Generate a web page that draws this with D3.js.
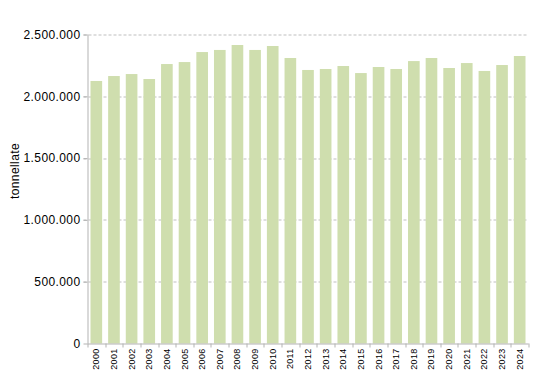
<!DOCTYPE html>
<html>
<head>
<meta charset="utf-8">
<script src="https://cdn.jsdelivr.net/npm/d3@7"></script>
<style>
  body { margin: 0; background: #fff; }
  text { font-family: "Liberation Sans", Arial, sans-serif; fill: #000; }
</style>
</head>
<body>
<div id="chart"></div>
<script>
// Data
const years = ['2000', '2001', '2002', '2003', '2004', '2005', '2006', '2007', '2008', '2009',
  '2010', '2011', '2012', '2013', '2014', '2015', '2016', '2017', '2018', '2019',
  '2020', '2021', '2022', '2023', '2024'];
const tonnes = [2124000, 2164000, 2180000, 2140000, 2261000, 2277000, 2358000, 2375000, 2415000, 2375000,
  2407000, 2310000, 2213000, 2221000, 2245000, 2188000, 2237000, 2221000, 2285000, 2310000,
  2229000, 2269000, 2205000, 2253000, 2326000];
const yTicks = [0, 500000, 1000000, 1500000, 2000000, 2500000];
const yLabel = 'tonnellate';

const data = years.map((y, i) => ({ year: y, value: tonnes[i] }));

const width = 549;
const height = 378;
const margin = { top: 34.5, right: 20.5, bottom: 34.5, left: 87.5 };
const innerW = width - margin.left - margin.right;
const innerH = height - margin.top - margin.bottom;

// Italian thousands separator
const itFormat = d3.formatLocale({ decimal: ',', thousands: '.', grouping: [3], currency: ['€', ''] }).format(',d');

const svg = d3.select('#chart')
  .append('svg')
  .attr('width', width)
  .attr('height', height);

const g = svg.append('g')
  .attr('transform', `translate(${margin.left},${margin.top})`);

const x = d3.scaleBand()
  .domain(years)
  .range([0, innerW])
  .paddingInner(0.34)
  .paddingOuter(0.17);

const y = d3.scaleLinear()
  .domain([0, 2500000])
  .range([innerH, 0]);

// Gridlines (dashed)
g.append('g')
  .selectAll('line')
  .data(yTicks.filter((d) => d > 0))
  .enter()
  .append('line')
  .attr('x1', -4)
  .attr('x2', innerW)
  .attr('y1', (d) => Math.round(y(d)) + 0.5)
  .attr('y2', (d) => Math.round(y(d)) + 0.5)
  .attr('stroke', '#bfbfbf')
  .attr('stroke-width', 1)
  .attr('stroke-dasharray', '3 2');

// Bars
g.append('g')
  .selectAll('rect')
  .data(data)
  .enter()
  .append('rect')
  .attr('x', (d) => x(d.year))
  .attr('y', (d) => y(d.value))
  .attr('width', x.bandwidth())
  .attr('height', (d) => innerH - y(d.value))
  .attr('fill', '#cfdeae');

// Y axis
const yAxis = d3.axisLeft(y)
  .tickValues(yTicks)
  .tickFormat(itFormat)
  .tickSize(4)
  .tickPadding(3);

const yg = g.append('g').call(yAxis);
yg.select('.domain').attr('stroke', '#b3b3b3').attr('d', `M0.5,0V${innerH}`);
yg.selectAll('.tick line').attr('stroke', '#b3b3b3');
yg.selectAll('.tick text')
  .style('font-size', '12px')
  .style('letter-spacing', '0.4px');

// X axis: ticks at category boundaries
const xg = g.append('g').attr('transform', `translate(0,${innerH})`);
xg.append('line')
  .attr('x1', 0)
  .attr('x2', innerW)
  .attr('y1', 0.5)
  .attr('y2', 0.5)
  .attr('stroke', '#b3b3b3');

const step = x.step();
const boundaries = d3.range(years.length + 1).map((i) => x(years[0]) - x.paddingOuter() * step + i * step);
xg.selectAll('.xtick')
  .data(boundaries)
  .enter()
  .append('line')
  .attr('class', 'xtick')
  .attr('x1', (d) => Math.round(d) + 0.5)
  .attr('x2', (d) => Math.round(d) + 0.5)
  .attr('y1', 0)
  .attr('y2', 4)
  .attr('stroke', '#b3b3b3');

xg.selectAll('.xlabel')
  .data(years)
  .enter()
  .append('text')
  .attr('class', 'xlabel')
  .attr('transform', (d) => `translate(${x(d) + x.bandwidth() / 2 + 3},${5}) rotate(-90)`)
  .attr('text-anchor', 'end')
  .style('font-size', '9px')
  .style('letter-spacing', '0.3px')
  .text((d) => d);

// Y label
svg.append('text')
  .attr('transform', `translate(19,171) rotate(-90)`)
  .attr('text-anchor', 'middle')
  .style('font-size', '12px')
  .style('letter-spacing', '0.4px')
  .text(yLabel);
</script>
</body>
</html>
